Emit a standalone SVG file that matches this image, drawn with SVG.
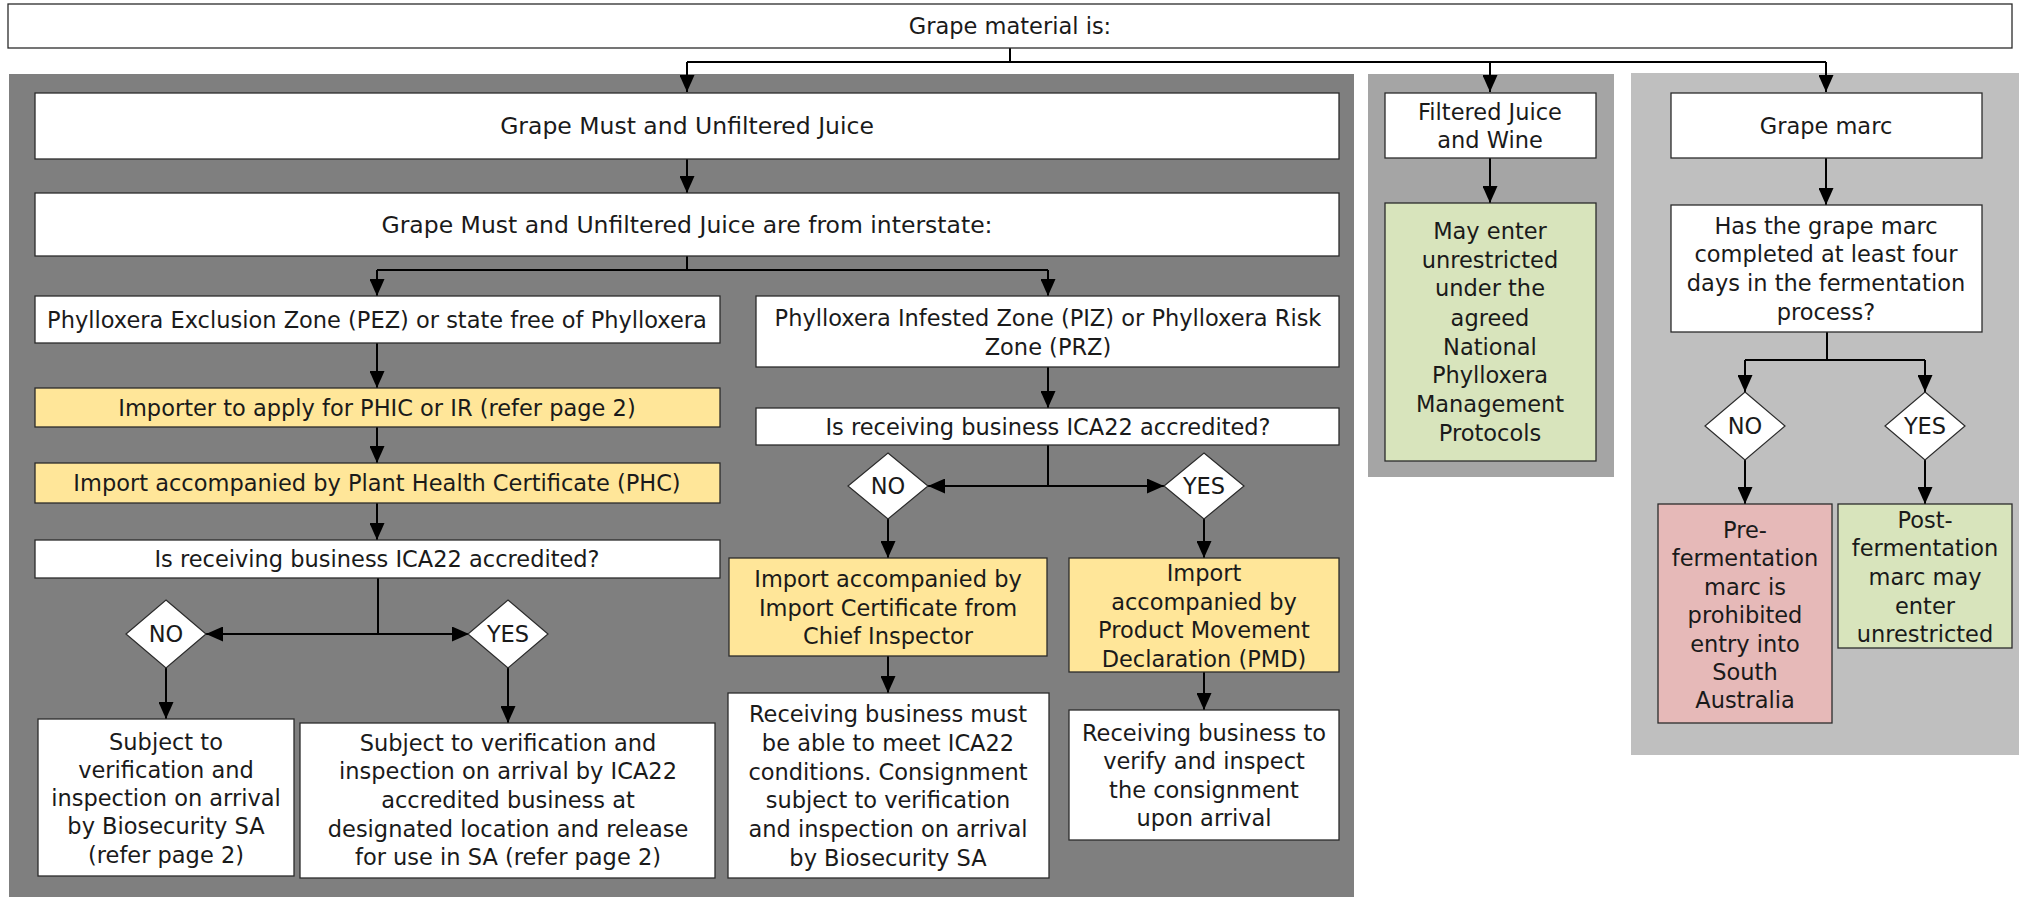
<svg xmlns="http://www.w3.org/2000/svg" width="2019" height="897" viewBox="0 0 2019 897">
  <defs>
    <marker id="arrow" viewBox="0 0 17 15" refX="17" refY="7.5" markerWidth="17" markerHeight="15" markerUnits="userSpaceOnUse" orient="auto">
      <path d="M0,0 L17,7.5 L0,15 z" fill="#000"/>
    </marker>
    <style>
      .panel-dark { fill: #7f7f7f; }
      .panel-mid { fill: #a5a5a5; }
      .panel-light { fill: #bfbfbf; }
      .box { fill: #ffffff; stroke: #2b2b2b; stroke-width: 1.3; }
      .yellow { fill: #ffe699; stroke: #2b2b2b; stroke-width: 1.3; }
      .green { fill: #d8e4bc; stroke: #2b2b2b; stroke-width: 1.3; }
      .red { fill: #e6b9b8; stroke: #2b2b2b; stroke-width: 1.3; }
      .diamond { fill: #ffffff; stroke: #2b2b2b; stroke-width: 1.2; }
      text { font-family: "DejaVu Sans", "Liberation Sans", sans-serif; font-size: 22.5px; fill: #1a1a1a; text-anchor: middle; }
      .wide { font-size: 23.5px; }
      .conn { fill: none; stroke: #000; stroke-width: 2; }
      .arr { fill: none; stroke: #000; stroke-width: 2; marker-end: url(#arrow); }
    </style>
  </defs>

  <!-- background panels for the three material groups -->
  <g id="panels">
    <rect class="panel-dark" x="9" y="74" width="1345" height="823"/>
    <rect class="panel-mid" x="1368" y="74" width="246" height="403"/>
    <rect class="panel-light" x="1631" y="73" width="388" height="682"/>
  </g>

  <g id="connectors">
    <path class="conn" d="M1010,48 V62 M687,62 H1826"/>
    <path class="arr" d="M687,62 V92"/>
    <path class="arr" d="M1490,62 V92"/>
    <path class="arr" d="M1826,62 V92"/>
    <path class="arr" d="M687,159 V193"/>
    <path class="conn" d="M687,256 V270 M377,270 H1048"/>
    <path class="arr" d="M377,270 V296"/>
    <path class="arr" d="M1048,270 V296"/>
    <path class="arr" d="M377,343 V388"/>
    <path class="arr" d="M377,427 V463"/>
    <path class="arr" d="M377,503 V540"/>
    <path class="conn" d="M378,578 V634"/>
    <path class="arr" d="M378,634 H206"/>
    <path class="arr" d="M378,634 H469"/>
    <path class="arr" d="M166,668 V719"/>
    <path class="arr" d="M508,668 V723"/>
    <path class="arr" d="M1048,367 V408"/>
    <path class="conn" d="M1048,445 V486"/>
    <path class="arr" d="M1048,486 H928"/>
    <path class="arr" d="M1048,486 H1164"/>
    <path class="arr" d="M888,519 V558"/>
    <path class="arr" d="M1204,519 V558"/>
    <path class="arr" d="M888,656 V693"/>
    <path class="arr" d="M1204,672 V710"/>
    <path class="arr" d="M1490,158 V203"/>
    <path class="arr" d="M1826,158 V205"/>
    <path class="conn" d="M1827,332 V360 M1745,360 H1925"/>
    <path class="arr" d="M1745,360 V392"/>
    <path class="arr" d="M1925,360 V392"/>
    <path class="arr" d="M1745,460 V504"/>
    <path class="arr" d="M1925,460 V504"/>
  </g>

  <g id="grape-material">
    <rect class="box" x="8" y="4" width="2004" height="44"/>
    <text x="1010" y="34">Grape material is:</text>
  </g>

  <!-- Grape must and unfiltered juice branch -->
  <g id="must">
    <rect class="box" x="35" y="93" width="1304" height="66"/>
    <text class="wide" x="687" y="134">Grape Must and Unfiltered Juice</text>
  </g>
  <g id="must-interstate">
    <rect class="box" x="35" y="193" width="1304" height="63"/>
    <text class="wide" x="687" y="233">Grape Must and Unfiltered Juice are from interstate:</text>
  </g>
  <g id="pez">
    <rect class="box" x="35" y="296" width="685" height="47"/>
    <text x="377" y="328">Phylloxera Exclusion Zone (PEZ) or state free of Phylloxera</text>
  </g>
  <g id="pez-phic">
    <rect class="yellow" x="35" y="388" width="685" height="39"/>
    <text x="377" y="416">Importer to apply for PHIC or IR (refer page 2)</text>
  </g>
  <g id="pez-phc">
    <rect class="yellow" x="35" y="463" width="685" height="40"/>
    <text x="377" y="491">Import accompanied by Plant Health Certificate (PHC)</text>
  </g>
  <g id="pez-ica22">
    <rect class="box" x="35" y="540" width="685" height="38"/>
    <text x="377" y="567">Is receiving business ICA22 accredited?</text>
  </g>
  <g id="pez-no">
    <polygon class="diamond" points="166,600 206,634 166,668 126,634"/>
    <text x="166" y="642">NO</text>
  </g>
  <g id="pez-yes">
    <polygon class="diamond" points="508,600 548,634 508,668 468,634"/>
    <text x="508" y="642">YES</text>
  </g>
  <g id="pez-no-result">
    <rect class="box" x="38" y="719" width="256" height="157"/>
    <text x="166" y="750">Subject to</text>
    <text x="166" y="778">verification and</text>
    <text x="166" y="806">inspection on arrival</text>
    <text x="166" y="834">by Biosecurity SA</text>
    <text x="166" y="863">(refer page 2)</text>
  </g>
  <g id="pez-yes-result">
    <rect class="box" x="300" y="723" width="415" height="155"/>
    <text x="508" y="751">Subject to verification and</text>
    <text x="508" y="779">inspection on arrival by ICA22</text>
    <text x="508" y="808">accredited business at</text>
    <text x="508" y="837">designated location and release</text>
    <text x="508" y="865">for use in SA (refer page 2)</text>
  </g>

  <g id="piz">
    <rect class="box" x="756" y="296" width="583" height="71"/>
    <text x="1048" y="326">Phylloxera Infested Zone (PIZ) or Phylloxera Risk</text>
    <text x="1048" y="355">Zone (PRZ)</text>
  </g>
  <g id="piz-ica22">
    <rect class="box" x="756" y="408" width="583" height="37"/>
    <text x="1048" y="435">Is receiving business ICA22 accredited?</text>
  </g>
  <g id="piz-no">
    <polygon class="diamond" points="888,453 928,486 888,519 848,486"/>
    <text x="888" y="494">NO</text>
  </g>
  <g id="piz-yes">
    <polygon class="diamond" points="1204,453 1244,486 1204,519 1164,486"/>
    <text x="1204" y="494">YES</text>
  </g>
  <g id="piz-import-cert">
    <rect class="yellow" x="729" y="558" width="318" height="98"/>
    <text x="888" y="587">Import accompanied by</text>
    <text x="888" y="616">Import Certificate from</text>
    <text x="888" y="644">Chief Inspector</text>
  </g>
  <g id="piz-pmd">
    <rect class="yellow" x="1069" y="558" width="270" height="114"/>
    <text x="1204" y="581">Import</text>
    <text x="1204" y="610">accompanied by</text>
    <text x="1204" y="638">Product Movement</text>
    <text x="1204" y="667">Declaration (PMD)</text>
  </g>
  <g id="piz-no-result">
    <rect class="box" x="728" y="693" width="321" height="185"/>
    <text x="888" y="722">Receiving business must</text>
    <text x="888" y="751">be able to meet ICA22</text>
    <text x="888" y="780">conditions. Consignment</text>
    <text x="888" y="808">subject to verification</text>
    <text x="888" y="837">and inspection on arrival</text>
    <text x="888" y="866">by Biosecurity SA</text>
  </g>
  <g id="piz-yes-result">
    <rect class="box" x="1069" y="710" width="270" height="130"/>
    <text x="1204" y="741">Receiving business to</text>
    <text x="1204" y="769">verify and inspect</text>
    <text x="1204" y="798">the consignment</text>
    <text x="1204" y="826">upon arrival</text>
  </g>

  <!-- Filtered juice and wine branch -->
  <g id="filtered">
    <rect class="box" x="1385" y="93" width="211" height="65"/>
    <text x="1490" y="120">Filtered Juice</text>
    <text x="1490" y="148">and Wine</text>
  </g>
  <g id="filtered-result">
    <rect class="green" x="1385" y="203" width="211" height="258"/>
    <text x="1490" y="239">May enter</text>
    <text x="1490" y="268">unrestricted</text>
    <text x="1490" y="296">under the</text>
    <text x="1490" y="326">agreed</text>
    <text x="1490" y="355">National</text>
    <text x="1490" y="383">Phylloxera</text>
    <text x="1490" y="412">Management</text>
    <text x="1490" y="441">Protocols</text>
  </g>

  <!-- Grape marc branch -->
  <g id="marc">
    <rect class="box" x="1671" y="93" width="311" height="65"/>
    <text x="1826" y="134">Grape marc</text>
  </g>
  <g id="marc-question">
    <rect class="box" x="1671" y="205" width="311" height="127"/>
    <text x="1826" y="234">Has the grape marc</text>
    <text x="1826" y="262">completed at least four</text>
    <text x="1826" y="291">days in the fermentation</text>
    <text x="1826" y="320">process?</text>
  </g>
  <g id="marc-no">
    <polygon class="diamond" points="1745,392 1785,426 1745,460 1705,426"/>
    <text x="1745" y="434">NO</text>
  </g>
  <g id="marc-yes">
    <polygon class="diamond" points="1925,392 1965,426 1925,460 1885,426"/>
    <text x="1925" y="434">YES</text>
  </g>
  <g id="marc-pre">
    <rect class="red" x="1658" y="504" width="174" height="219"/>
    <text x="1745" y="538">Pre-</text>
    <text x="1745" y="566">fermentation</text>
    <text x="1745" y="595">marc is</text>
    <text x="1745" y="623">prohibited</text>
    <text x="1745" y="652">entry into</text>
    <text x="1745" y="680">South</text>
    <text x="1745" y="708">Australia</text>
  </g>
  <g id="marc-post">
    <rect class="green" x="1838" y="504" width="174" height="144"/>
    <text x="1925" y="528">Post-</text>
    <text x="1925" y="556">fermentation</text>
    <text x="1925" y="585">marc may</text>
    <text x="1925" y="614">enter</text>
    <text x="1925" y="642">unrestricted</text>
  </g>
</svg>
